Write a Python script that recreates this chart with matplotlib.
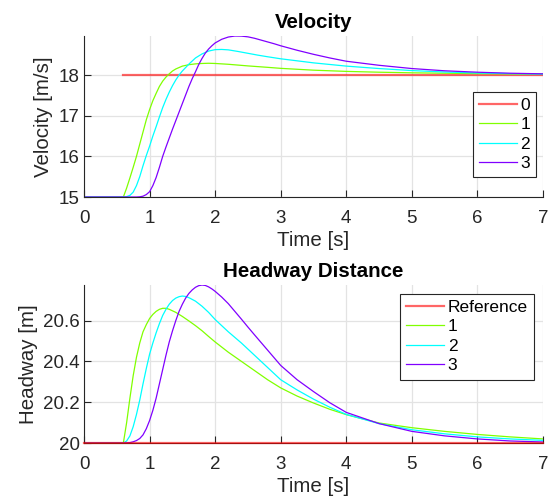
import matplotlib
matplotlib.use("Agg")
import matplotlib.pyplot as plt

plt.rcParams['font.family'] = ['Liberation Sans', 'DejaVu Sans']

# ---------------- Velocity data ----------------
t_v0 = [0.6, 7.0]
v0 = [18.0, 18.0]

t_v1 = [0, 0.6, 0.65, 0.7, 0.75, 0.8, 0.85, 0.9, 0.95, 1.0, 1.05, 1.1, 1.15, 1.2,
        1.25, 1.3, 1.35, 1.4, 1.5, 1.6, 1.7, 1.8, 1.9, 2.0, 2.2, 2.5, 2.8, 3.0,
        3.5, 4.0, 4.5, 5.0, 5.5, 6.0, 6.5, 7.0]
v1 = [15, 15, 15.22, 15.47, 15.73, 16.0, 16.3, 16.6, 16.9, 17.15, 17.37, 17.55,
      17.72, 17.85, 17.95, 18.03, 18.1, 18.15, 18.22, 18.255, 18.275, 18.285,
      18.29, 18.285, 18.265, 18.225, 18.19, 18.165, 18.12, 18.09, 18.07, 18.055,
      18.045, 18.035, 18.028, 18.022]

t_v2 = [0, 0.6, 0.65, 0.7, 0.75, 0.8, 0.85, 0.9, 0.95, 1.0, 1.05, 1.1, 1.15, 1.2,
        1.25, 1.3, 1.35, 1.4, 1.45, 1.5, 1.6, 1.7, 1.8, 1.9, 2.0, 2.1, 2.2, 2.35,
        2.5, 2.65, 2.8, 3.0, 3.25, 3.5, 3.75, 4.0, 4.5, 5.0, 5.5, 6.0, 6.5, 7.0]
v2 = [15, 15, 15.01, 15.04, 15.12, 15.28, 15.5, 15.77, 16.02, 16.25, 16.5, 16.73,
      16.97, 17.2, 17.4, 17.58, 17.74, 17.88, 18.0, 18.1, 18.27, 18.42, 18.52,
      18.59, 18.625, 18.63, 18.62, 18.58, 18.535, 18.49, 18.45, 18.40, 18.35,
      18.30, 18.26, 18.22, 18.16, 18.11, 18.075, 18.05, 18.035, 18.025]

t_v3 = [0, 0.6, 0.8, 0.85, 0.9, 0.95, 1.0, 1.05, 1.1, 1.15, 1.2, 1.25, 1.3, 1.35,
        1.4, 1.45, 1.5, 1.55, 1.6, 1.65, 1.7, 1.75, 1.8, 1.85, 1.9, 1.95, 2.0,
        2.1, 2.2, 2.3, 2.4, 2.5, 2.6, 2.7, 2.8, 2.9, 3.0, 3.25, 3.5, 3.75, 4.0,
        4.5, 5.0, 5.5, 6.0, 6.5, 7.0]
v3 = [15, 15, 15.0, 15.005, 15.02, 15.06, 15.13, 15.28, 15.48, 15.73, 16.0, 16.23,
      16.45, 16.67, 16.88, 17.09, 17.3, 17.51, 17.72, 17.91, 18.08, 18.26, 18.41,
      18.54, 18.64, 18.72, 18.79, 18.88, 18.935, 18.96, 18.958, 18.94, 18.905,
      18.86, 18.815, 18.77, 18.72, 18.61, 18.51, 18.42, 18.34, 18.24, 18.16,
      18.105, 18.07, 18.045, 18.03]

# ---------------- Headway data ----------------
t_h0 = [0.0, 7.0]
h0 = [20.0, 20.0]

t_h1 = [0, 0.6, 0.625, 0.65, 0.7, 0.75, 0.8, 0.85, 0.9, 0.95, 1.0, 1.05, 1.1, 1.15,
        1.2, 1.25, 1.3, 1.4, 1.5, 1.6, 1.7, 1.8, 1.9, 2.0, 2.2, 2.4, 2.6, 2.8,
        3.0, 3.25, 3.5, 3.75, 4.0, 4.5, 5.0, 5.5, 6.0, 6.5, 7.0]
h1 = [20, 20, 20.05, 20.1, 20.22, 20.33, 20.42, 20.49, 20.545, 20.58, 20.61,
      20.63, 20.645, 20.655, 20.66, 20.66, 20.655, 20.64, 20.62, 20.598, 20.575,
      20.55, 20.522, 20.495, 20.445, 20.40, 20.355, 20.31, 20.27, 20.23, 20.196,
      20.165, 20.139, 20.098, 20.075, 20.057, 20.042, 20.03, 20.02]

t_h2 = [0, 0.6, 0.65, 0.7, 0.75, 0.8, 0.85, 0.9, 0.95, 1.0, 1.05, 1.1, 1.15, 1.2,
        1.25, 1.3, 1.35, 1.4, 1.45, 1.5, 1.55, 1.6, 1.7, 1.8, 1.9, 2.0, 2.1, 2.2,
        2.4, 2.6, 2.8, 3.0, 3.25, 3.5, 3.75, 4.0, 4.5, 5.0, 5.5, 6.0, 6.5, 7.0]
h2 = [20, 20, 20.01, 20.035, 20.08, 20.14, 20.21, 20.29, 20.365, 20.435, 20.49,
      20.54, 20.585, 20.625, 20.655, 20.68, 20.698, 20.71, 20.717, 20.72, 20.718,
      20.712, 20.695, 20.67, 20.64, 20.605, 20.575, 20.545, 20.49, 20.43, 20.37,
      20.31, 20.26, 20.215, 20.175, 20.14, 20.095, 20.065, 20.045, 20.03, 20.02,
      20.013]

t_h3 = [0, 0.6, 0.7, 0.75, 0.8, 0.85, 0.9, 0.95, 1.0, 1.05, 1.1, 1.15, 1.2, 1.25,
        1.3, 1.35, 1.4, 1.45, 1.5, 1.55, 1.6, 1.65, 1.7, 1.75, 1.8, 1.85, 1.9,
        1.95, 2.0, 2.1, 2.2, 2.3, 2.4, 2.5, 2.6, 2.8, 3.0, 3.25, 3.5, 3.75, 4.0,
        4.5, 5.0, 5.5, 6.0, 6.5, 7.0]
h3 = [20, 20, 20.002, 20.006, 20.012, 20.022, 20.04, 20.07, 20.11, 20.16, 20.22,
      20.29, 20.36, 20.43, 20.495, 20.55, 20.6, 20.645, 20.68, 20.71, 20.733,
      20.75, 20.763, 20.771, 20.774, 20.772, 20.765, 20.755, 20.743, 20.715,
      20.683, 20.645, 20.607, 20.568, 20.53, 20.455, 20.38, 20.31, 20.252,
      20.197, 20.15, 20.095, 20.057, 20.035, 20.02, 20.01, 20.005]

x_ticks = [0, 1, 2, 3, 4, 5, 6, 7]
v_ticks = [15, 16, 17, 18]
h_ticks = [20, 20.2, 20.4, 20.6]
h_ticklabels = ['20', '20.2', '20.4', '20.6']

labels_v = ['0', '1', '2', '3']
labels_h = ['Reference', '1', '2', '3']

RED = (1.0, 0.0, 0.0, 0.6)
GREEN = (0.5, 1.0, 0.0)
CYAN = (0.0, 1.0, 1.0)
PURPLE = (0.5, 0.0, 1.0)
TXT = '#262626'

fig = plt.figure(figsize=(5.48, 4.99), dpi=100)
ax1 = fig.add_axes([0.1533, 0.6052, 0.8376, 0.3226])
ax2 = fig.add_axes([0.1533, 0.1122, 0.8376, 0.3166])


def style(ax):
    ax.grid(True, color='#e3e3e3', linewidth=0.9)
    ax.set_axisbelow(True)
    for s in ['top', 'right']:
        ax.spines[s].set_visible(False)
    for s in ['left', 'bottom']:
        ax.spines[s].set_color(TXT)
        ax.spines[s].set_linewidth(0.8)
    ax.tick_params(direction='in', length=5, width=0.8, colors=TXT,
                   labelsize=13.5)
    ax.tick_params(axis='x', pad=9)
    ax.tick_params(axis='y', pad=3)
    ax.set_xlim(0, 7)
    ax.set_xticks(x_ticks)
    ax.set_xlabel('Time [s]', fontsize=14.8, color=TXT, labelpad=3)


# Velocity
ax1.plot(t_v0, v0, color=RED, lw=1.6, label=labels_v[0])
ax1.plot(t_v1, v1, color=GREEN, lw=0.9, label=labels_v[1])
ax1.plot(t_v2, v2, color=CYAN, lw=0.9, label=labels_v[2])
ax1.plot(t_v3, v3, color=PURPLE, lw=0.9, label=labels_v[3])
style(ax1)
ax1.set_ylim(15, max(v3))
ax1.set_yticks(v_ticks)
ax1.set_ylabel('Velocity [m/s]', fontsize=14.8, color=TXT)
ax1.set_title('Velocity', fontsize=14.8, fontweight='bold', pad=6)
leg1 = ax1.legend(loc='upper right', bbox_to_anchor=(0.985, 0.655),
                  fontsize=12.5, fancybox=False, framealpha=1,
                  edgecolor=TXT, handlelength=2.2, handletextpad=0.2,
                  labelspacing=0.25, borderpad=0.35, borderaxespad=0)
leg1.get_frame().set_linewidth(0.8)

# Headway
ax2.plot(t_h0, h0, color=RED, lw=1.6, label=labels_h[0], clip_on=False, zorder=5)
ax2.plot(t_h1, h1, color=GREEN, lw=0.9, label=labels_h[1])
ax2.plot(t_h2, h2, color=CYAN, lw=0.9, label=labels_h[2])
ax2.plot(t_h3, h3, color=PURPLE, lw=0.9, label=labels_h[3])
style(ax2)
ax2.set_ylim(20, max(h3))
ax2.set_yticks(h_ticks)
ax2.set_yticklabels(h_ticklabels)
ax2.set_ylabel('Headway [m]', fontsize=14.8, color=TXT)
ax2.set_title('Headway Distance', fontsize=14.8, fontweight='bold', pad=6)
leg2 = ax2.legend(loc='upper right', bbox_to_anchor=(0.98, 0.945),
                  fontsize=12.5, fancybox=False, framealpha=1,
                  edgecolor=TXT, handlelength=2.2, handletextpad=0.2,
                  labelspacing=0.25, borderpad=0.35, borderaxespad=0)
leg2.get_frame().set_linewidth(0.8)

fig.savefig('out.png', dpi=100)
